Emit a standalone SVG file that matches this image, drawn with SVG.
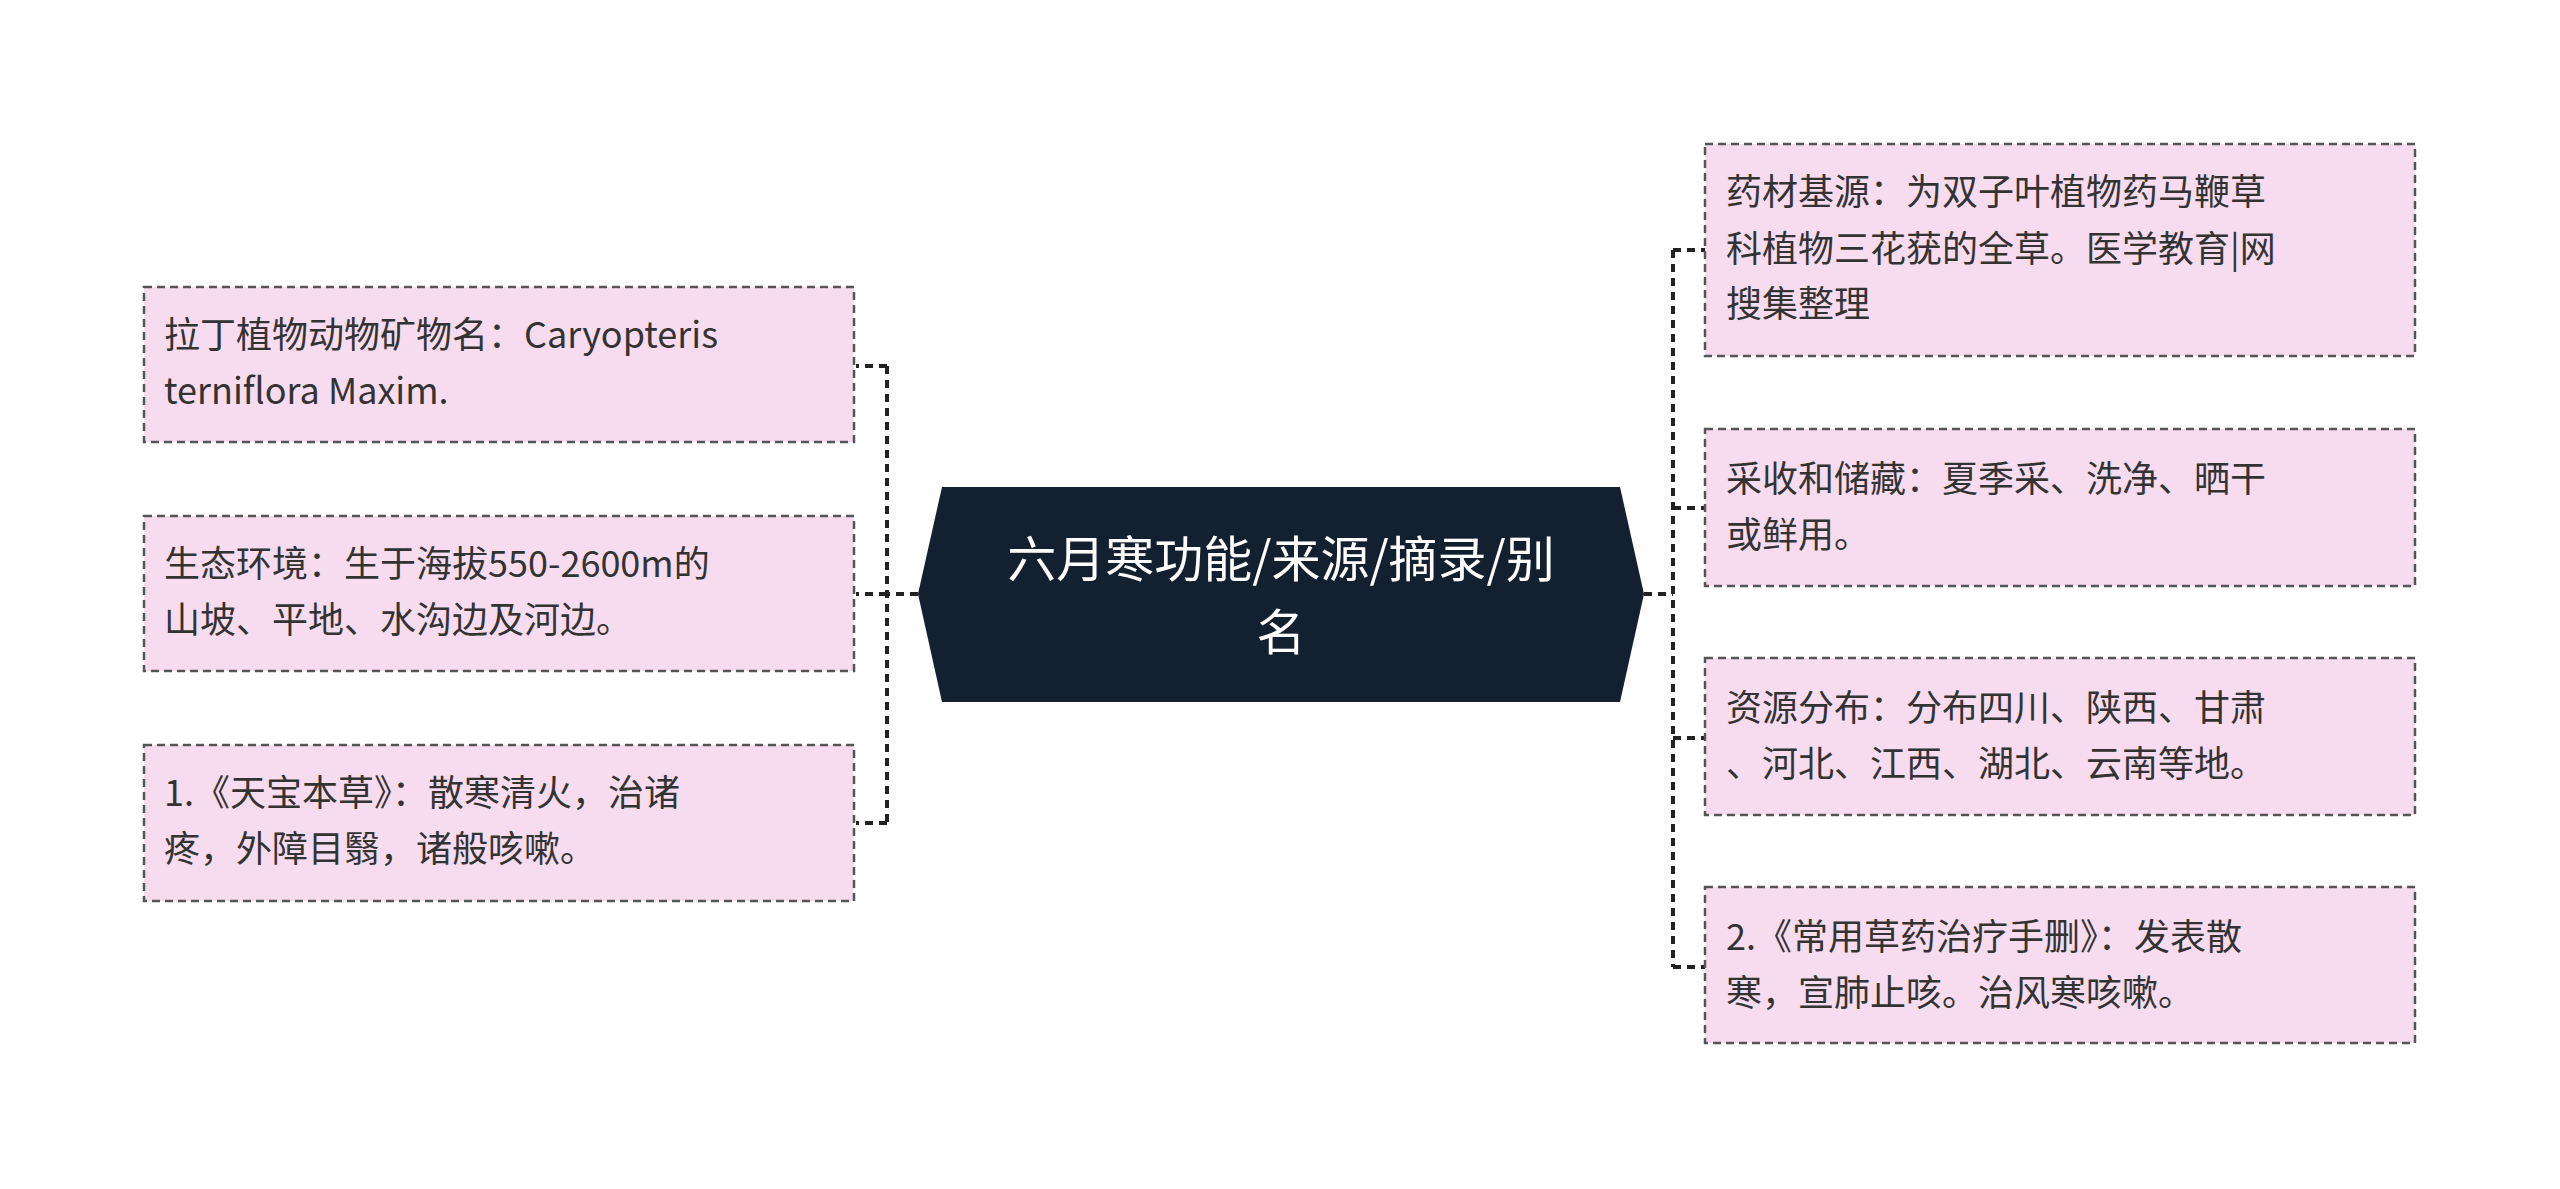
<svg xmlns="http://www.w3.org/2000/svg" width="2560" height="1189" viewBox="0 0 2560 1189">
<style>
.box{fill:#f7dcf0;stroke:#555;stroke-width:2.5;stroke-dasharray:8 5}
.t{font-family:"Noto Sans CJK SC","Noto Sans",sans-serif;font-size:36px;fill:#333}
.c{font-family:"Noto Sans CJK SC","Noto Sans",sans-serif;font-size:49px;fill:#fff;text-anchor:middle}
.ln{fill:none;stroke:#222;stroke-width:4;stroke-dasharray:8 6}
</style>
<rect width="2560" height="1189" fill="#fff"/>
<g id="connectors">
<path class="ln" d="M918 594H887M887 366V823M887 366H856M887 594H856M887 823H856"/>
<path class="ln" d="M1644 594H1673M1673 250V967M1673 250H1705M1673 508H1705M1673 738H1705M1673 967H1705"/>
</g>
<g id="center">
<path d="M918 594L942 487H1620L1644 594L1620 702H942Z" fill="#13202f"/>
<text class="c" x="1281" y="577">六月寒功能/来源/摘录/别</text>
<text class="c" x="1281" y="650">名</text>
</g>
<g id="l1"><rect class="box" x="144" y="287" width="710" height="155"/>
<text class="t" x="164" y="348">拉丁植物动物矿物名：Caryopteris</text><text class="t" x="164" y="404"> terniflora Maxim.</text></g>
<g id="l2"><rect class="box" x="144" y="516" width="710" height="155"/>
<text class="t" x="164" y="577">生态环境：生于海拔550-2600m的</text><text class="t" x="164" y="633">山坡、平地、水沟边及河边。</text></g>
<g id="l3"><rect class="box" x="144" y="745" width="710" height="156"/>
<text class="t" x="164" y="806">1.《天宝本草》：散寒清火，治诸</text><text class="t" x="164" y="862">疼，外障目翳，诸般咳嗽。</text></g>
<g id="r1"><rect class="box" x="1705" y="144" width="710" height="212"/>
<text class="t" x="1726" y="205">药材基源：为双子叶植物药马鞭草</text><text class="t" x="1726" y="262">科植物三花莸的全草。医学教育|网</text><text class="t" x="1726" y="317">搜集整理</text></g>
<g id="r2"><rect class="box" x="1705" y="429" width="710" height="157"/>
<text class="t" x="1726" y="492">采收和储藏：夏季采、洗净、晒干</text><text class="t" x="1726" y="548">或鲜用。</text></g>
<g id="r3"><rect class="box" x="1705" y="658" width="710" height="157"/>
<text class="t" x="1726" y="721">资源分布：分布四川、陕西、甘肃</text><text class="t" x="1726" y="777">、河北、江西、湖北、云南等地。</text></g>
<g id="r4"><rect class="box" x="1705" y="887" width="710" height="156"/>
<text class="t" x="1726" y="950">2.《常用草药治疗手删》：发表散</text><text class="t" x="1726" y="1006">寒，宣肺止咳。治风寒咳嗽。</text></g>
</svg>
